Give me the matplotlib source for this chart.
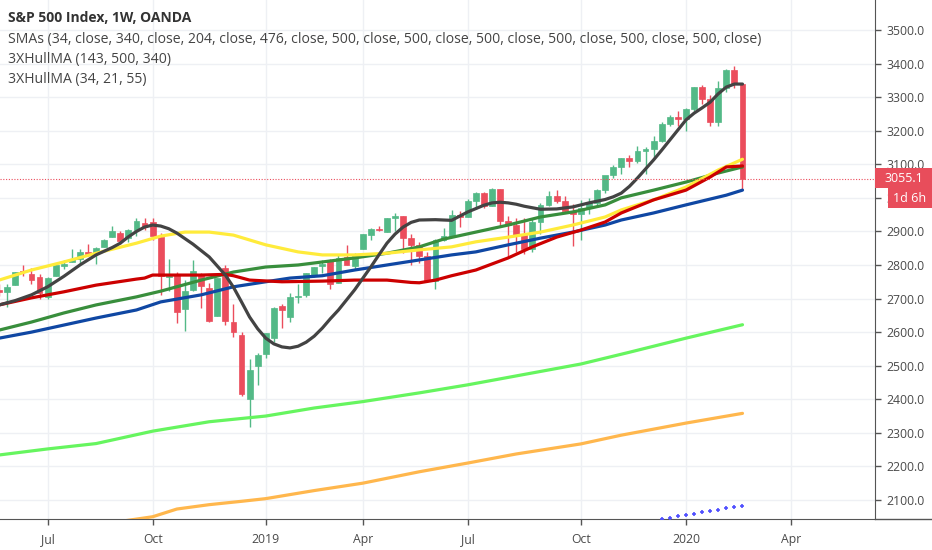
import matplotlib
matplotlib.use("Agg")
import matplotlib.pyplot as plt
from matplotlib.patches import Rectangle
from matplotlib.lines import Line2D

# ---------------- data (weekly bars, index 0 = week of 2018-05-21) ----------------
opens = [2725, 2720, 2741, 2782, 2773, 2765, 2705, 2768, 2797, 2809, 2819, 2840, 2835, 2853, 2884, 2896,
         2881, 2903, 2924, 2927, 2882, 2764, 2773, 2669, 2726, 2773, 2730, 2649, 2790, 2630, 2591, 2401,
         2498, 2535, 2582, 2677, 2644, 2706, 2712, 2770, 2797, 2814, 2747, 2823, 2796, 2848, 2889, 2908,
         2898, 2941, 2946, 2881, 2860, 2826, 2752, 2873, 2887, 2950, 2942, 2990, 3014, 2977, 3026, 2932,
         2919, 2889, 2847, 2927, 2979, 3007, 2992, 2962, 2952, 2970, 2986, 3023, 3067, 3093, 3120, 3110,
         3141, 3146, 3169, 3221, 3240, 3235, 3265, 3330, 3295, 3225, 3328, 3380, 3338]
highs = [2742, 2742, 2779, 2801, 2790, 2772, 2764, 2804, 2816, 2848, 2848, 2863, 2855, 2876, 2916, 2900,
         2906, 2940, 2940, 2940, 2894, 2817, 2778, 2756, 2815, 2775, 2747, 2760, 2800, 2685, 2601, 2520,
         2538, 2597, 2675, 2685, 2716, 2744, 2775, 2794, 2814, 2817, 2830, 2861, 2836, 2893, 2910, 2916,
         2940, 2954, 2946, 2892, 2869, 2840, 2876, 2910, 2964, 2960, 2996, 3018, 3018, 3028, 3027, 2945,
         2940, 2939, 2940, 2985, 3021, 3022, 3007, 2983, 2993, 3000, 3027, 3066, 3097, 3120, 3127, 3154,
         3150, 3183, 3226, 3248, 3259, 3268, 3329, 3337, 3306, 3347, 3385, 3393, 3340]
lows = [2707, 2676, 2741, 2766, 2743, 2698, 2698, 2768, 2787, 2808, 2802, 2826, 2802, 2853, 2884, 2864,
        2868, 2886, 2904, 2874, 2710, 2724, 2628, 2603, 2722, 2671, 2631, 2647, 2621, 2584, 2409, 2316,
        2443, 2524, 2571, 2612, 2631, 2687, 2705, 2764, 2775, 2728, 2747, 2800, 2785, 2848, 2873, 2900,
        2898, 2900, 2835, 2801, 2805, 2750, 2728, 2870, 2887, 2912, 2942, 2966, 2970, 2976, 2914, 2822,
        2840, 2834, 2840, 2891, 2975, 2985, 2957, 2856, 2874, 2953, 2980, 3015, 3060, 3070, 3091, 3105,
        3070, 3123, 3165, 3215, 3213, 3200, 3260, 3281, 3214, 3215, 3315, 3328, 3022]
closes = [2721, 2735, 2779, 2779, 2755, 2718, 2760, 2801, 2802, 2819, 2840, 2833, 2850, 2875, 2902, 2872,
          2905, 2930, 2914, 2886, 2767, 2768, 2659, 2723, 2781, 2736, 2633, 2760, 2633, 2600, 2417, 2486,
          2532, 2596, 2671, 2665, 2706, 2708, 2775, 2793, 2804, 2743, 2822, 2801, 2834, 2893, 2907, 2905,
          2940, 2946, 2881, 2860, 2826, 2752, 2873, 2887, 2950, 2942, 2990, 3014, 2977, 3026, 2932, 2919,
          2889, 2847, 2927, 2979, 3007, 2992, 2962, 2952, 2970, 2986, 3023, 3067, 3093, 3120, 3110, 3141,
          3146, 3169, 3221, 3240, 3235, 3265, 3330, 3295, 3225, 3328, 3380, 3338, 3055.1]

# moving-average lines: (week index, value)
hull_fast_w = [0, 2, 4, 6, 8, 10, 12, 14, 15, 16, 17, 18, 19, 20, 21, 22, 24, 26, 28, 29, 30, 31, 32, 33,
               34, 35, 36, 37, 38, 39, 40, 41, 42, 43, 44, 45, 46, 47, 48, 49, 50, 51, 52, 54, 56, 58, 60,
               61, 62, 63, 64, 65, 67, 69, 71, 73, 75, 76, 77, 78, 79, 80, 81, 82, 83, 84, 85, 86, 87, 88,
               89, 90, 91, 92]
hull_fast_v = [2681, 2694, 2711, 2735, 2766, 2800, 2830, 2852, 2865, 2884, 2900, 2913, 2919, 2916, 2908,
               2895, 2862, 2824, 2770, 2734, 2690, 2645, 2610, 2582, 2565, 2556, 2553, 2558, 2570, 2588,
               2612, 2640, 2666, 2696, 2726, 2760, 2794, 2830, 2865, 2892, 2913, 2927, 2934, 2935, 2933,
               2958, 2978, 2985, 2987, 2985, 2981, 2975, 2966, 2967, 2973, 2985, 2995, 3003, 3014, 3034,
               3059, 3086, 3113, 3142, 3172, 3202, 3232, 3252, 3268, 3285, 3310, 3330, 3339, 3339]
sma34_w = [0, 4, 8, 12, 17, 20, 23, 26, 29, 33, 37, 40, 44, 48, 52, 56, 59, 63, 67, 71, 75, 77, 81, 85, 89, 92]
sma34_v = [2755, 2785, 2809, 2835, 2865, 2886, 2898, 2898, 2889, 2860, 2839, 2830, 2830, 2835, 2845, 2854,
           2869, 2883, 2898, 2919, 2943, 2964, 2994, 3032, 3083, 3115]
hull_slow_w = [0, 4, 8, 12, 17, 18, 19, 22, 25, 28, 29, 31, 35, 40, 44, 48, 51, 52, 54, 56, 59, 63, 66,
               69, 72, 75, 77, 81, 85, 88, 90, 92]
hull_slow_v = [2681, 2702, 2720, 2740, 2758, 2761, 2770, 2770, 2770, 2772, 2768, 2755, 2750, 2752, 2755,
               2755, 2748, 2747, 2755, 2768, 2785, 2821, 2854, 2883, 2904, 2928, 2955, 2994, 3023, 3062,
               3092, 3095]
sma_green_w = [0, 4, 8, 12, 17, 20, 25, 29, 33, 37, 40, 44, 48, 52, 55, 59, 63, 67, 71, 75, 77, 81, 85, 89, 92]
sma_green_v = [2606, 2630, 2657, 2681, 2705, 2722, 2755, 2779, 2794, 2800, 2809, 2821, 2835, 2854, 2877,
               2898, 2919, 2943, 2958, 2979, 3000, 3023, 3047, 3074, 3092]
sma_blue_w = [0, 4, 8, 12, 17, 20, 25, 29, 33, 36, 40, 44, 48, 52, 56, 59, 63, 67, 71, 75, 77, 81, 85, 90, 92]
sma_blue_v = [2582, 2600, 2621, 2642, 2666, 2690, 2711, 2735, 2750, 2761, 2768, 2785, 2800, 2815, 2830,
              2839, 2860, 2880, 2898, 2919, 2934, 2955, 2979, 3008, 3023]
sma_lime_w = [0, 6, 12, 19, 26, 33, 39, 45, 52, 58, 65, 72, 78, 85, 92]
sma_lime_v = [2234, 2252, 2268, 2305, 2333, 2350, 2374, 2393, 2419, 2443, 2474, 2505, 2540, 2582, 2622]
sma_orange_w = [15, 19, 22, 26, 30, 33, 39, 45, 52, 58, 64, 72, 77, 85, 92]
sma_orange_v = [2036, 2050, 2073, 2086, 2096, 2104, 2128, 2150, 2184, 2210, 2237, 2267, 2293, 2329, 2358]
hull_dots_w = [82, 83, 84, 85, 86, 87, 88, 89, 90, 91, 92]
hull_dots_v = [2043, 2047, 2051, 2055, 2059, 2063, 2067, 2071, 2075, 2079, 2083]

month_ticks = [6, 19, 33, 45, 58, 72, 85, 98]
month_labels = ["Jul", "Oct", "2019", "Apr", "Jul", "Oct", "2020", "Apr"]
price_ticks = list(range(2100, 3600, 100))
last_price = 3055.1

title = "S&P 500 Index, 1W, OANDA"
legend_lines = ["SMAs (34, close, 340, close, 204, close, 476, close, 500, close, 500, close, 500, close, 500, close, 500, close, 500, close)",
                "3XHullMA (143, 500, 340)",
                "3XHullMA (34, 21, 55)"]

# ---------------- figure ----------------
plt.rcParams['font.family'] = ['Open Sans', 'DejaVu Sans']
W, H = 932, 550
fig = plt.figure(figsize=(W / 100, H / 100), dpi=100)
fig.patch.set_facecolor('white')
ax = fig.add_axes([0, 31 / H, 875 / W, 519 / H])
ax.set_xlim(0.11, 108.4)
ax.set_ylim(2043.3, 3589.4)

UP, DN = '#53b987', '#eb4d5c'
grid_c = '#eef0f4'
for t in month_ticks:
    ax.axvline(t, color=grid_c, lw=1, zorder=0)
for p in price_ticks:
    ax.axhline(p, color=grid_c, lw=1, zorder=0)

# candles
for i in range(len(opens)):
    o, h, l, c = opens[i], highs[i], lows[i], closes[i]
    col = UP if c >= o else DN
    ax.vlines(i, l, h, color=col, lw=1, zorder=2)
    bot = min(o, c)
    ht = max(abs(c - o), 2.5)
    ax.add_patch(Rectangle((i - 0.36, bot), 0.72, ht, facecolor=col, edgecolor=col, lw=0.5, zorder=3))

lw = 2.3
kw = dict(lw=lw, solid_capstyle='round', solid_joinstyle='round')
ax.plot(sma_lime_w, sma_lime_v, color='#66f55f', zorder=4, **kw)
ax.plot(sma_orange_w, sma_orange_v, color='#ffb74d', zorder=4, **kw)
ax.plot(sma_blue_w, sma_blue_v, color='#0f47a3', zorder=4, **kw)
ax.plot(sma_green_w, sma_green_v, color='#388e3c', zorder=4, **kw)
ax.plot(sma34_w, sma34_v, color='#ffeb3b', zorder=4, **kw)
ax.plot(hull_slow_w, hull_slow_v, color='#cc0000', zorder=5, **kw)
ax.plot(hull_fast_w, hull_fast_v, color='#434343', zorder=6, **kw)
ax.plot(hull_dots_w, hull_dots_v, ls='none', marker='+', ms=3.5, mew=1.2, color='#5050ff', zorder=4)

ax.axhline(last_price, color=DN, lw=0.8, ls=(0, (1, 1.5)), zorder=7)

# axes styling
for s in ['left', 'top']:
    ax.spines[s].set_visible(False)
ax.spines['right'].set_color('#555555')
ax.spines['bottom'].set_color('#555555')
ax.yaxis.tick_right()
ax.set_yticks(price_ticks)
ax.set_yticklabels([f"{p:.1f}" for p in price_ticks])
ax.set_xticks(month_ticks)
ax.set_xticklabels(month_labels)
ax.tick_params(axis='both', colors='#555555', labelcolor='#4a4a4a', labelsize=8.8, length=4, width=1)
ax.tick_params(axis='y', pad=4)
ax.tick_params(axis='x', pad=6)
fig.add_artist(Line2D([875 / W, 1], [31 / H, 31 / H], color='#555555', lw=1, transform=fig.transFigure))

# last price tags
fig.add_artist(Rectangle((875 / W, 1 - 188 / H), 57 / W, 20 / H, transform=fig.transFigure,
                         facecolor='#e84d5b', edgecolor='none', zorder=10))
fig.text(904 / W, 1 - 178 / H, "3055.1", color='white', fontsize=9, ha='center', va='center', zorder=11)
fig.add_artist(Rectangle((888 / W, 1 - 208 / H), 44 / W, 20 / H, transform=fig.transFigure,
                         facecolor='#e84d5b', edgecolor='none', zorder=10))
fig.text(910 / W, 1 - 198 / H, "1d 6h", color='white', fontsize=9, ha='center', va='center', zorder=11)

# legend texts
fig.text(8 / W, 1 - 18 / H, title, fontsize=10, fontweight='bold', color='#333333', ha='left', va='center')
for k, s in enumerate(legend_lines):
    fig.text(8 / W, 1 - (39 + 20 * k) / H, s, fontsize=10.1, color='#444444', ha='left', va='center')

fig.savefig("out.png", dpi=100)
